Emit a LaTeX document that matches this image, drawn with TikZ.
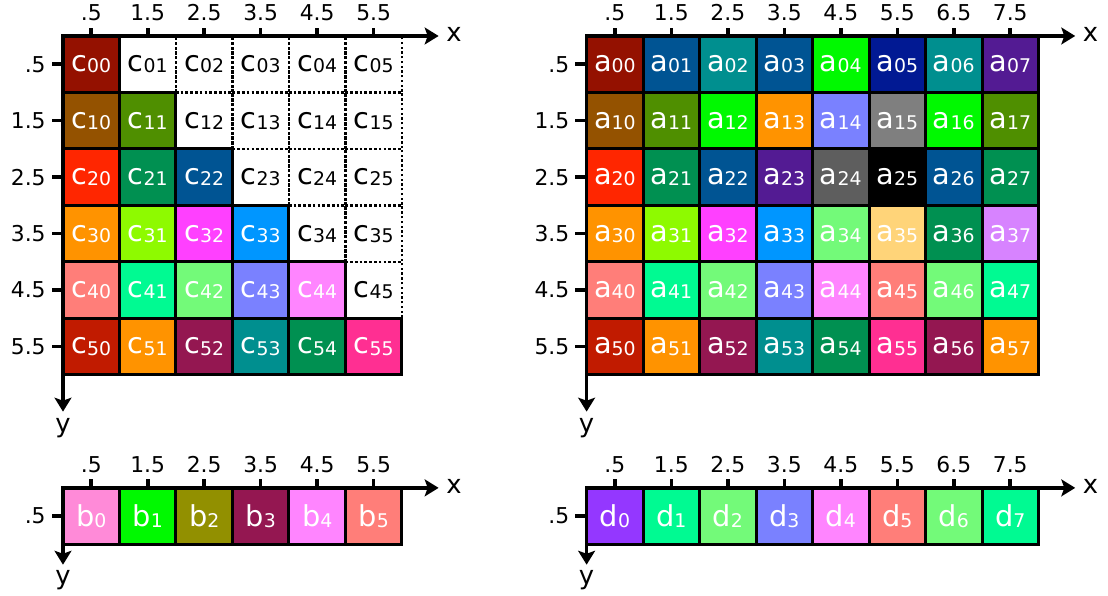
\documentclass[tikz,border=0pt]{standalone}
\usepackage{fontspec}
\setmainfont{DejaVu Sans}
\usetikzlibrary{arrows.meta}
\definecolor{cayenne}{HTML}{941100}
\definecolor{mocha}{HTML}{945200}
\definecolor{fern}{HTML}{4F8F00}
\definecolor{maraschino}{HTML}{FF2600}
\definecolor{moss}{HTML}{009051}
\definecolor{ocean}{HTML}{005493}
\definecolor{tangerine}{HTML}{FF9300}
\definecolor{lime}{HTML}{8EFA00}
\definecolor{magenta}{HTML}{FF40FF}
\definecolor{aqua}{HTML}{0096FF}
\definecolor{salmon}{HTML}{FF7E79}
\definecolor{seafoam}{HTML}{00FA92}
\definecolor{flora}{HTML}{73FA79}
\definecolor{orchid}{HTML}{7A81FF}
\definecolor{bubblegum}{HTML}{FF85FF}
\definecolor{brick}{HTML}{C11B00}
\definecolor{maroon}{HTML}{941751}
\definecolor{teal}{HTML}{008F8F}
\definecolor{strawberry}{HTML}{FF2F92}
\definecolor{spring}{HTML}{00F900}
\definecolor{midnight}{HTML}{011993}
\definecolor{eggplant}{HTML}{531B93}
\definecolor{tin}{HTML}{7F7F7F}
\definecolor{iron}{HTML}{5E5E5E}
\definecolor{cantaloupe}{HTML}{FFD479}
\definecolor{lavender}{HTML}{D783FF}
\definecolor{carnation}{HTML}{FF8AD8}
\definecolor{asparagus}{HTML}{929000}
\definecolor{grape}{HTML}{9437FF}
\newcommand{\elt}[2]{{\fontsize{14.5}{15}\selectfont #1}{\fontsize{9.5}{10}\selectfont\raisebox{-0.6pt}{#2}}}

\begin{document}
\begin{tikzpicture}[
  cellbox/.style={draw,line width=1.5pt,minimum width=1cm,minimum height=1cm,inner sep=0pt,text=white},
  emptybox/.style={draw,line width=1.2pt,dash pattern=on 1.2pt off 1.2pt,minimum width=1cm,minimum height=1cm,inner sep=0pt,text=black},
  axis/.style={line width=1.8pt,-{Stealth[length=7pt,width=8.5pt,inset=1.5pt]}},
  tick/.style={line width=1.8pt},
  ticklbl/.style={font=\fontsize{11}{11}\selectfont,inner sep=0pt},
  axislbl/.style={font=\fontsize{13}{13}\selectfont,inner sep=0pt}]
\useasboundingbox (-1.115,0.637) rectangle (18.5,-9.91);

% ---- C : lower triangle
\foreach \i in {0,...,4}{
  \pgfmathtruncatemacro\jfirst{\i+1}
  \foreach \j in {\jfirst,...,5}
    \node[emptybox] (c-\i-\j) at (\j+0.5,-\i-0.5) {\elt{c}{\i\j}};
}
\foreach \col/\i/\j in {cayenne/0/0, mocha/1/0, fern/1/1, maraschino/2/0, moss/2/1, ocean/2/2,
  tangerine/3/0, lime/3/1, magenta/3/2, aqua/3/3, salmon/4/0, seafoam/4/1, flora/4/2,
  orchid/4/3, bubblegum/4/4, brick/5/0, tangerine/5/1, maroon/5/2, teal/5/3, moss/5/4, strawberry/5/5}
  \node[cellbox,fill=\col] (c-\i-\j) at (\j+0.5,-\i-0.5) {\elt{c}{\i\j}};
\coordinate (co) at (0,0);
\coordinate (cx) at (6.65,0);
\coordinate (cy) at (0,-6.65);
\draw[axis] (co) -- (cx);
\draw[axis] (co) -- (cy);
\node[axislbl,anchor=west] (cxl) at (6.78,0.02) {x};
\node[axislbl,anchor=north] (cyl) at (0,-6.76) {y};
\foreach \j/\t in {0/.5,1/1.5,2/2.5,3/3.5,4/4.5,5/5.5}{
  \draw[tick] (\j+0.5,0) -- ++(0,0.15);
  \draw[tick] (0,-\j-0.5) -- ++(-0.2,0);
  \node[ticklbl] (cxt\j) at (\j+0.5,0.41) {\t};
  \node[ticklbl,anchor=east] (cyt\j) at (-0.3,-\j-0.5) {\t};
}

% ---- A : full 6 x 8
\begin{scope}[shift={(9.27,0)}]
\foreach \col [count=\k from 0] in {cayenne,ocean,teal,ocean,spring,midnight,teal,eggplant,
  mocha,fern,spring,tangerine,orchid,tin,spring,fern,
  maraschino,moss,ocean,eggplant,iron,black,ocean,moss,
  tangerine,lime,magenta,aqua,flora,cantaloupe,moss,lavender,
  salmon,seafoam,flora,orchid,bubblegum,salmon,flora,seafoam,
  brick,tangerine,maroon,teal,moss,strawberry,maroon,tangerine}{
  \pgfmathtruncatemacro\i{\k/8}
  \pgfmathtruncatemacro\j{mod(\k,8)}
  \node[cellbox,fill=\col] (a-\i-\j) at (\j+0.5,-\i-0.5) {\elt{a}{\i\j}};
}
\coordinate (ao) at (0,0);
\coordinate (ax) at (8.65,0);
\coordinate (ay) at (0,-6.65);
\draw[axis] (ao) -- (ax);
\draw[axis] (ao) -- (ay);
\node[axislbl,anchor=west] (axl) at (8.78,0.02) {x};
\node[axislbl,anchor=north] (ayl) at (0,-6.76) {y};
\foreach \j/\t in {0/.5,1/1.5,2/2.5,3/3.5,4/4.5,5/5.5,6/6.5,7/7.5}{
  \draw[tick] (\j+0.5,0) -- ++(0,0.15);
  \node[ticklbl] (axt\j) at (\j+0.5,0.41) {\t};
}
\foreach \j/\t in {0/.5,1/1.5,2/2.5,3/3.5,4/4.5,5/5.5}{
  \draw[tick] (0,-\j-0.5) -- ++(-0.2,0);
  \node[ticklbl,anchor=east] (ayt\j) at (-0.3,-\j-0.5) {\t};
}
\end{scope}

% ---- B : one row
\begin{scope}[shift={(0,-8)}]
\foreach \col [count=\j from 0] in {carnation,spring,asparagus,maroon,bubblegum,salmon}
  \node[cellbox,fill=\col] (b-\j) at (\j+0.5,-0.5) {\elt{b}{\j}};
\coordinate (bo) at (0,0);
\coordinate (bx) at (6.65,0);
\coordinate (by) at (0,-1.36);
\draw[axis] (bo) -- (bx);
\draw[axis] (bo) -- (by);
\node[axislbl,anchor=west] (bxl) at (6.78,0.02) {x};
\node[axislbl,anchor=north] (byl) at (0,-1.45) {y};
\foreach \j/\t in {0/.5,1/1.5,2/2.5,3/3.5,4/4.5,5/5.5}{
  \draw[tick] (\j+0.5,0) -- ++(0,0.15);
  \node[ticklbl] (bxt\j) at (\j+0.5,0.41) {\t};
}
\draw[tick] (0,-0.5) -- ++(-0.2,0);
\node[ticklbl,anchor=east] (byt0) at (-0.3,-0.5) {.5};
\end{scope}

% ---- D : one row
\begin{scope}[shift={(9.27,-8)}]
\foreach \col [count=\j from 0] in {grape,seafoam,flora,orchid,bubblegum,salmon,flora,seafoam}
  \node[cellbox,fill=\col] (d-\j) at (\j+0.5,-0.5) {\elt{d}{\j}};
\coordinate (do) at (0,0);
\coordinate (dx) at (8.65,0);
\coordinate (dy) at (0,-1.36);
\draw[axis] (do) -- (dx);
\draw[axis] (do) -- (dy);
\node[axislbl,anchor=west] (dxl) at (8.78,0.02) {x};
\node[axislbl,anchor=north] (dyl) at (0,-1.45) {y};
\foreach \j/\t in {0/.5,1/1.5,2/2.5,3/3.5,4/4.5,5/5.5,6/6.5,7/7.5}{
  \draw[tick] (\j+0.5,0) -- ++(0,0.15);
  \node[ticklbl] (dxt\j) at (\j+0.5,0.41) {\t};
}
\draw[tick] (0,-0.5) -- ++(-0.2,0);
\node[ticklbl,anchor=east] (dyt0) at (-0.3,-0.5) {.5};
\end{scope}
\end{tikzpicture}
\end{document}
